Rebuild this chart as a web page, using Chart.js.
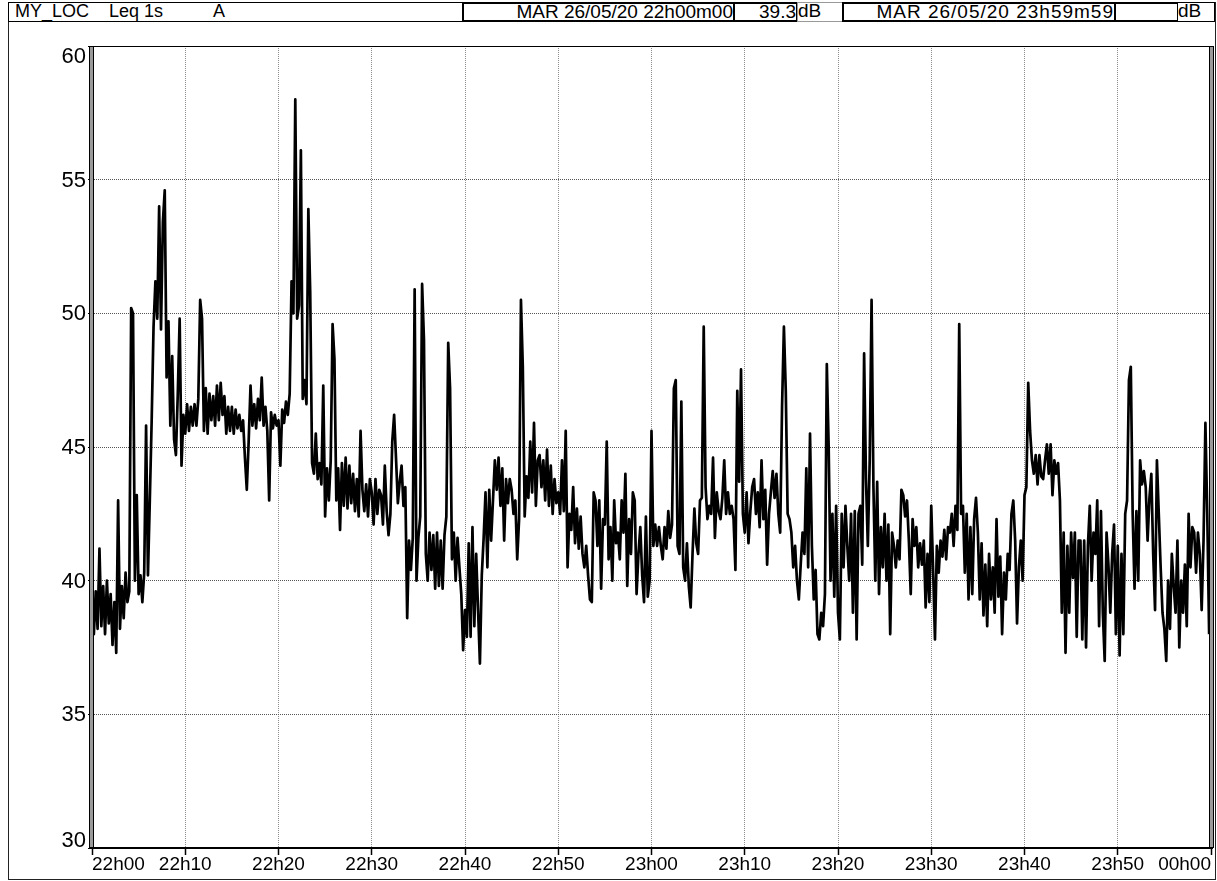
<!DOCTYPE html>
<html>
<head>
<meta charset="utf-8">
<script src="https://cdn.jsdelivr.net/npm/chart.js@4.4.1/dist/chart.umd.min.js"></script>
<style>
  html, body { margin: 0; padding: 0; background: #fff; }
  body { width: 1217px; height: 881px; position: relative; overflow: hidden; font-family: "Liberation Sans", Arial, sans-serif; }
  #chart { position: absolute; left: 0; top: 0; }
  #frame { position: absolute; left: 8px; top: 2px; width: 1208px; height: 878px; border: 1px solid #222; box-sizing: border-box; }
  .cell { position: absolute; top: 2px; height: 20px; box-sizing: border-box; font-size: 19px; line-height: 16px; white-space: nowrap; overflow: hidden; color: #000; background: #fff; }
  .thin { border: 1px solid #000; }
  .thick { border: 2px solid #000; }
  .right { text-align: right; }
</style>
</head>
<body>
<canvas id="chart" width="1217" height="881"></canvas>
<div id="frame"></div>
<div class="cell thin" style="left:8px;width:456px;font-size:18px;"><span style="position:absolute;left:6px;">MY_LOC</span><span style="position:absolute;left:100px;">Leq 1s</span><span style="position:absolute;left:204px;">A</span></div>
<div class="cell thick right" style="left:462px;width:273px;">MAR 26/05/20 22h00m00</div>
<div class="cell thick right" style="left:733px;width:65px;">39.3</div>
<div class="cell thin" style="left:797px;width:46px;border-color:#999;">dB</div>
<div class="cell thick right" style="left:842px;width:274px;letter-spacing:1px;">MAR 26/05/20 23h59m59</div>
<div class="cell thick" style="left:1114px;width:65px;"></div>
<div class="cell thin" style="left:1177px;width:38px;">dB</div>
<script>
'use strict';
// Leq 1s (dB A), every 12 s (5 readings per minute), one array per 10 minutes
let leq2200 = [
  39.4, 38.0, 39.6, 38.2, 41.2,  38.3, 39.8, 38.0, 40.0, 38.4,
  39.5, 37.6, 39.2, 37.3, 43.0,  38.2, 39.8, 38.6, 40.3, 39.2,
  39.6, 50.2, 50.0, 40.0, 43.2,  39.5, 40.2, 39.2, 40.3, 45.8,
  40.2, 43.0, 46.0, 49.5, 51.2,  49.8, 54.0, 49.4, 53.4, 54.6,
  47.6, 49.7, 45.8, 48.4, 45.3,  44.7, 47.0, 49.8, 44.3, 46.2
];
let leq2210 = [
  45.5, 46.6, 45.6, 46.5, 45.8,  46.6, 45.8, 46.8, 50.5, 49.8,
  45.6, 47.2, 45.5, 47.0, 46.0,  46.9, 45.8, 47.3, 46.0, 47.4,
  46.2, 46.9, 45.5, 46.5, 45.6,  46.5, 45.5, 46.4, 45.7, 46.2,
  45.6, 46.0, 44.6, 43.4, 45.2,  47.3, 45.8, 46.6, 45.7, 46.8,
  46.0, 47.6, 45.8, 46.5, 45.6,  43.0, 46.3, 45.7, 46.2, 45.8
];
let leq2220 = [
  46.0, 44.3, 46.4, 45.9, 46.7,  46.2, 47.0, 51.2, 50.0, 58.0,
  49.8, 50.3, 56.1, 46.8, 47.5,  46.6, 53.9, 50.8, 44.4, 44.0,
  45.5, 43.8, 44.4, 43.6, 47.3,  42.4, 44.2, 43.0, 44.5, 49.6,
  48.3, 43.0, 44.2, 41.9, 44.4,  42.8, 44.6, 42.7, 44.3, 42.9,
  44.0, 42.6, 43.8, 42.4, 45.6,  43.4, 42.6, 43.6, 42.4, 43.8
];
let leq2230 = [
  43.3, 42.1, 43.8, 42.5, 43.4,  43.2, 42.1, 44.3, 42.6, 41.7,
  42.5, 45.2, 46.2, 44.6, 42.9,  43.7, 44.3, 42.8, 43.5, 38.6,
  41.5, 40.4, 41.6, 50.9, 40.0,  41.6, 42.4, 51.1, 49.0, 41.0,
  40.0, 41.8, 40.4, 41.7, 39.7,  41.8, 39.8, 41.5, 39.7, 41.7,
  42.4, 48.9, 47.2, 40.8, 41.8,  40.0, 41.6, 40.5, 39.5, 37.4
];
let leq2240 = [
  38.9, 37.9, 41.4, 37.9, 42.0,  38.3, 41.0, 38.9, 36.9, 40.2,
  41.6, 43.3, 40.5, 43.4, 41.5,  43.0, 44.5, 43.4, 44.6, 42.8,
  44.2, 41.5, 43.8, 42.9, 43.8,  43.4, 42.5, 43.0, 40.8, 42.3,
  50.5, 48.0, 42.4, 43.9, 43.1,  45.2, 43.3, 45.9, 42.8, 44.5,
  44.7, 43.5, 44.5, 43.0, 44.9,  42.8, 44.3, 42.5, 43.8, 42.9
];
let leq2250 = [
  43.3, 42.5, 44.5, 42.6, 45.6,  40.5, 42.5, 41.9, 43.5, 41.4,
  42.7, 41.2, 42.4, 41.0, 40.5,  41.3, 40.2, 39.3, 39.2, 43.3,
  43.0, 41.3, 43.0, 39.7, 42.3,  42.1, 45.2, 40.8, 42.0, 40.0,
  43.0, 41.4, 41.8, 40.8, 43.0,  41.8, 44.0, 39.8, 42.3, 41.0,
  43.3, 43.0, 39.5, 41.0, 42.0,  40.2, 39.2, 42.4, 39.4, 40.0
];
let leq2300 = [
  45.6, 41.3, 42.1, 41.3, 42.0,  41.3, 40.8, 42.0, 41.2, 42.6,
  41.6, 42.1, 47.2, 47.5, 41.3,  41.0, 46.7, 40.5, 40.0, 41.4,
  39.8, 39.0, 41.0, 42.7, 41.4,  41.0, 43.0, 43.1, 49.5, 43.5,
  42.3, 42.8, 42.5, 44.6, 41.6,  43.3, 42.6, 42.3, 43.1, 44.5,
  42.5, 43.3, 42.5, 42.8, 42.3,  40.4, 47.1, 43.7, 47.9, 42.5
];
let leq2310 = [
  41.8, 43.3, 41.4, 42.6, 43.5,  43.8, 42.5, 43.3, 42.0, 44.5,
  42.3, 43.4, 40.6, 42.5, 43.3,  44.1, 43.1, 44.0, 42.5, 41.8,
  46.5, 49.5, 47.1, 42.5, 42.3,  41.8, 40.5, 41.3, 40.0, 39.3,
  40.6, 41.8, 41.0, 44.2, 40.5,  45.5, 41.3, 39.3, 40.4, 38.0,
  37.8, 38.8, 38.3, 39.5, 48.1,  45.0, 40.0, 42.5, 39.4, 42.8
];
let leq2320 = [
  38.8, 37.8, 42.5, 40.5, 42.8,  41.3, 40.0, 42.5, 38.8, 42.6,
  37.8, 42.5, 42.8, 40.6, 48.5,  43.8, 41.3, 44.5, 50.5, 43.5,
  40.0, 43.7, 39.5, 42.0, 40.5,  42.5, 40.0, 42.1, 38.0, 41.8,
  41.3, 40.5, 41.5, 40.8, 43.4,  43.2, 42.4, 43.0, 41.5, 39.5,
  42.3, 41.3, 42.0, 40.5, 41.4,  40.6, 41.5, 39.0, 41.0, 39.2
];
let leq2330 = [
  42.8, 40.4, 37.8, 41.3, 40.3,  41.5, 40.9, 41.9, 40.8, 42.0,
  41.8, 42.5, 41.3, 42.8, 41.9,  49.6, 42.5, 42.8, 40.3, 42.5,
  39.3, 42.0, 39.5, 42.3, 43.1,  41.8, 39.3, 41.4, 38.7, 40.6,
  38.3, 41.0, 39.3, 40.5, 38.8,  42.3, 39.4, 40.9, 38.0, 40.3,
  39.3, 41.0, 40.4, 42.5, 43.0,  41.5, 38.4, 40.5, 41.5, 40.0
];
let leq2340 = [
  43.2, 43.5, 47.4, 45.6, 44.5,  44.0, 44.7, 43.6, 44.7, 43.9,
  43.8, 44.5, 45.1, 44.0, 45.1,  43.2, 44.5, 44.0, 44.4, 43.0,
  38.8, 41.8, 37.3, 41.3, 38.8,  41.8, 40.1, 41.8, 37.9, 41.5,
  41.5, 37.8, 41.5, 37.5, 41.3,  42.8, 40.0, 41.8, 41.0, 43.0,
  38.3, 42.6, 38.8, 37.0, 41.8,  40.6, 38.8, 41.0, 42.1, 38.0
];
let leq2350 = [
  41.3, 37.2, 41.0, 38.0, 42.5,  43.0, 47.5, 48.0, 42.5, 39.7,
  42.6, 40.0, 44.5, 43.6, 44.1,  43.5, 41.5, 43.1, 44.0, 41.0,
  38.9, 44.5, 42.5, 40.5, 38.8,  38.2, 37.0, 40.0, 38.2, 41.0,
  39.8, 38.8, 41.5, 37.5, 40.0,  38.8, 40.6, 38.3, 42.5, 40.5,
  42.0, 41.8, 40.3, 41.8, 41.0,  38.9, 41.5, 45.9, 42.5, 38.0
];
let stepMinutes = 0.2;
let timeLabels = ['22h00', '22h10', '22h20', '22h30', '22h40', '22h50', '23h00', '23h10', '23h20', '23h30', '23h40', '23h50', '00h00'];
let levelTicks = [30, 35, 40, 45, 50, 55, 60];

let allLevels = [].concat(leq2200, leq2210, leq2220, leq2230, leq2240, leq2250,
  leq2300, leq2310, leq2320, leq2330, leq2340, leq2350);
let points = [];
for (let i = 0; i < allLevels.length; i++) {
  points.push({ x: i * stepMinutes, y: allLevels[i] });
}

// axis frame (double left/right borders) and the y labels, which sit inside the end gridlines
let framePlugin = {
  id: 'frame',
  afterDraw(chart) {
    let ctx = chart.ctx;
    let a = chart.chartArea;
    let yScale = chart.scales.y;
    ctx.save();
    ctx.fillStyle = '#000';
    ctx.font = '22px "Liberation Sans", Arial, sans-serif';
    ctx.textAlign = 'right';
    for (let i = 0; i < levelTicks.length; i++) {
      let py = yScale.getPixelForValue(levelTicks[i]);
      ctx.textBaseline = i === 0 ? 'alphabetic' : (i === levelTicks.length - 1 ? 'top' : 'middle');
      let dy = i === 0 ? -1 : (i === levelTicks.length - 1 ? 0 : 1);
      ctx.fillText(String(levelTicks[i]), a.left - 6, py + dy);
    }
    ctx.fillStyle = '#9a9a9a';
    ctx.fillRect(a.left - 2, a.top, 3, a.bottom - a.top);
    ctx.fillRect(a.right - 1, a.top, 3, a.bottom - a.top);
    ctx.strokeStyle = '#000';
    ctx.lineWidth = 1;
    ctx.beginPath();
    ctx.moveTo(a.left - 2.5, a.top); ctx.lineTo(a.left - 2.5, a.bottom);
    ctx.moveTo(a.left + 1.5, a.top); ctx.lineTo(a.left + 1.5, a.bottom);
    ctx.moveTo(a.right - 1.5, a.top); ctx.lineTo(a.right - 1.5, a.bottom);
    ctx.moveTo(a.right + 2.5, a.top); ctx.lineTo(a.right + 2.5, a.bottom);
    ctx.moveTo(a.left - 2, a.top + 0.5); ctx.lineTo(a.right + 2, a.top + 0.5);
    ctx.stroke();
    ctx.lineWidth = 2;
    ctx.beginPath();
    ctx.moveTo(a.left - 2, a.bottom); ctx.lineTo(a.right + 2, a.bottom);
    ctx.stroke();
    ctx.restore();
  }
};

new Chart(document.getElementById('chart'), {
  type: 'line',
  data: {
    datasets: [{
      data: points,
      borderColor: '#000',
      borderWidth: 2.7,
      borderJoinStyle: 'round',
      pointRadius: 0,
      tension: 0,
      fill: false
    }]
  },
  options: {
    responsive: false,
    devicePixelRatio: 1,
    animation: false,
    parsing: false,
    normalized: true,
    layout: { padding: { top: 46, right: 6, left: 0, bottom: 0 } },
    plugins: { legend: { display: false }, tooltip: { enabled: false } },
    scales: {
      x: {
        type: 'linear',
        min: 0,
        max: 120,
        afterFit(scale) { scale.height = 33; },
        afterBuildTicks(scale) {
          scale.ticks = timeLabels.map((l, i) => ({ value: i * 10 }));
        },
        ticks: {
          align: 'inner',
          maxRotation: 0,
          autoSkip: false,
          padding: -2,
          color: '#000',
          font: { family: '"Liberation Sans", Arial, sans-serif', size: 19 },
          callback: (v, i) => timeLabels[i]
        },
        grid: {
          color: '#8c8c8c',
          lineWidth: 1,
          tickLength: 7,
          tickColor: '#000',
          tickWidth: 1.5,
          tickBorderDash: []
        },
        border: { display: false, dash: [1, 1] }
      },
      y: {
        min: 30,
        max: 60,
        afterFit(scale) { scale.width = 92; },
        afterBuildTicks(scale) {
          scale.ticks = levelTicks.map(v => ({ value: v }));
        },
        ticks: { display: false },
        grid: {
          color: '#555',
          lineWidth: 1,
          tickLength: 4,
          tickColor: '#000',
          tickWidth: 1,
          tickBorderDash: []
        },
        border: { display: false, dash: [1, 1] }
      }
    }
  },
  plugins: [framePlugin]
});
</script>
</body>
</html>
